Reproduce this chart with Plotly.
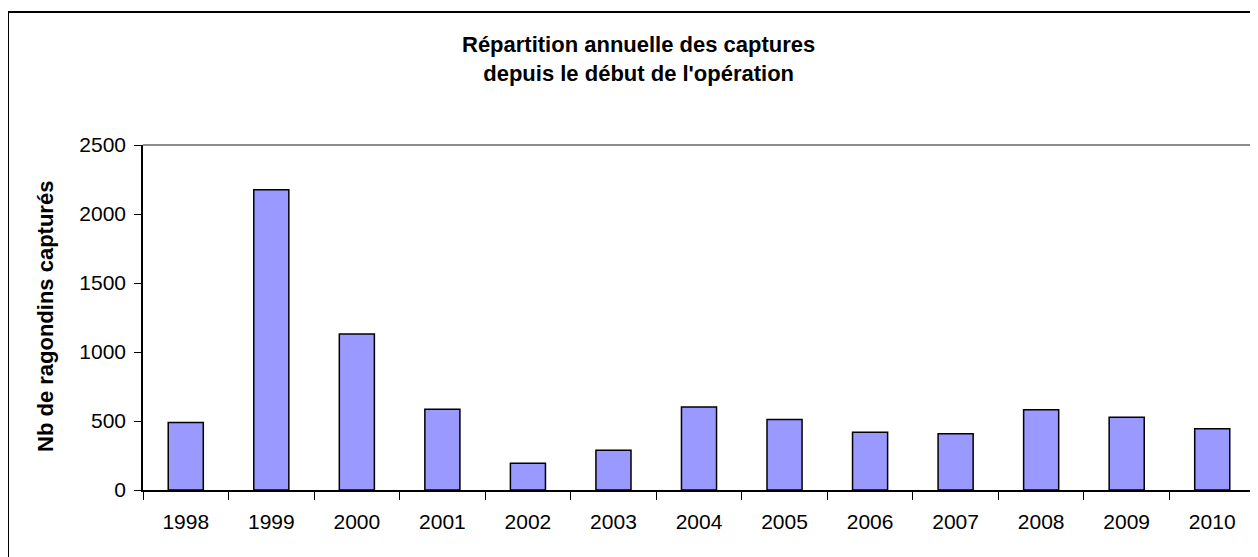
import plotly.graph_objects as go

# Captures annuelles de ragondins
annees = ["1998", "1999", "2000", "2001", "2002", "2003", "2004",
          "2005", "2006", "2007", "2008", "2009", "2010"]
captures = [490, 2175, 1130, 585, 193, 288, 601, 510, 418, 408, 582, 527, 444]

# la page html ajoute 8px de marge au body : on compense
OFF = 8
W, H = 1258 - OFF, 557 - OFF
L, R, T, B = 143 - OFF, 3, 145 - OFF, 67
pw, ph = W - L - R, H - T - B


def px(x):
    # x en pixels de l'image -> coordonnée paper
    return (x - OFF - L) / pw


def py(y):
    return (H - B - (y - OFF)) / ph


fig = go.Figure(go.Bar(
    x=annees,
    y=captures,
    marker=dict(color="#9999FF", line=dict(color="black", width=1.5)),
    width=0.41,
))

fig.update_layout(
    width=W, height=H,
    margin=dict(l=L, r=R, t=T, b=B),
    paper_bgcolor="white",
    plot_bgcolor="white",
    font=dict(family="Liberation Sans, Arial", size=21, color="black"),
    showlegend=False,
)

fig.update_xaxes(
    type="category",
    showline=True, linecolor="black", linewidth=1.5,
    ticks="outside", tickson="boundaries", ticklen=8, tickcolor="black", tickwidth=1,
    showgrid=False, ticklabelstandoff=12,
)
fig.update_yaxes(
    range=[0, 2500], dtick=500,
    showline=True, linecolor="black", linewidth=1.5,
    ticks="outside", ticklen=7, tickcolor="black", tickwidth=1,
    showgrid=False, zeroline=False, ticklabelstandoff=4,
)

# bord gris du haut et de droite de la zone de tracé
fig.add_shape(type="line", xref="paper", yref="paper", x0=0, x1=1, y0=1, y1=1,
              line=dict(color="#8c8c8c", width=2))
fig.add_shape(type="line", xref="paper", yref="paper", x0=1, x1=1, y0=0, y1=1,
              line=dict(color="#8c8c8c", width=2))

# cadre extérieur du graphique
fig.add_shape(type="rect", xref="paper", yref="paper",
              x0=px(8), x1=px(1300), y0=py(600), y1=py(12),
              line=dict(color="black", width=2), layer="below")

fig.add_annotation(
    xref="paper", yref="paper", x=px(638), y=py(59),
    xanchor="center", yanchor="middle",
    text="<b>Répartition annuelle des captures<br>depuis le début de l'opération</b>",
    showarrow=False, font=dict(size=22), align="center",
)
fig.add_annotation(
    xref="paper", yref="paper", x=px(45), y=py(317),
    xanchor="center", yanchor="middle",
    text="<b>Nb de ragondins capturés</b>", textangle=-90,
    showarrow=False, font=dict(size=22),
)

fig.write_html("out.html")
